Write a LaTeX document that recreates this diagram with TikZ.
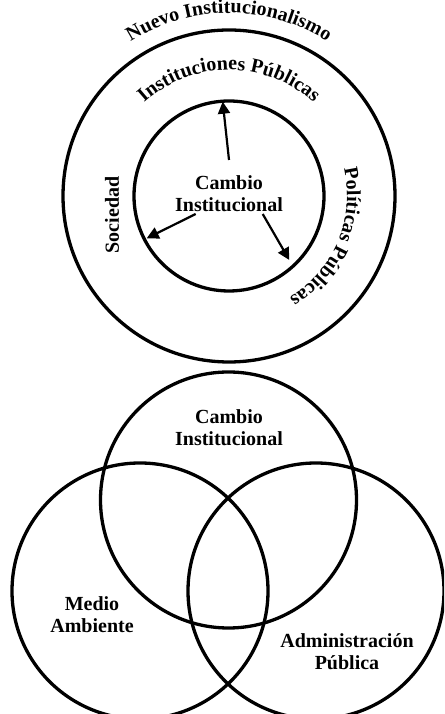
\documentclass[tikz,border=0pt]{standalone}
\usepackage{fontspec}
\setmainfont{Liberation Serif}
\usetikzlibrary{arrows.meta,decorations.text}
\newcommand{\arcfont}{\bfseries\fontsize{20}{22}\selectfont}
\begin{document}
\begin{tikzpicture}[x=1pt,y=1pt,
  ring/.style={draw=black, line width=3.3pt},
  lbl/.style={font=\arcfont, align=center, inner sep=0pt},
  arctext/.style={decorate,
    decoration={text along path, text align=center, text={#1}}},
  ray/.style={line width=2.2pt, -{Triangle[length=12pt,width=12pt]}}]
\fill[white] (0,0) rectangle (444,714);
\clip (0,0) rectangle (444,714);
% ---------- top: concentric circles ----------
\coordinate (C) at (229,518);
\draw[ring] (C) circle[radius=166pt];
\draw[ring] (C) circle[radius=95pt];
\begin{scope}
\arcfont
\path[arctext={Nuevo Institucionalismo}]
  (C) ++(150:183pt) arc[start angle=150, end angle=30, radius=183pt];
\path[arctext={Instituciones Públicas}]
  (C) ++(140:126pt) arc[start angle=140, end angle=40, radius=126pt];
\path[arctext={Políticas Públicas}]
  (C) ++(27:118pt) arc[start angle=27, end angle=-73, radius=118pt];
\end{scope}
\node[lbl, rotate=90] (soc) at (112,499) {Sociedad};
\node[lbl] (cic) at (229,520) {Cambio\\Institucional};
\coordinate (a1s) at (229,554);
\coordinate (a1e) at (222.7,612.3);
\coordinate (a2s) at (195.7,500);
\coordinate (a2e) at (146.7,475.7);
\coordinate (a3s) at (262.7,500);
\coordinate (a3e) at (289.3,454);
\draw[ray] (a1s) -- (a1e);
\draw[ray] (a2s) -- (a2e);
\draw[ray] (a3s) -- (a3e);
% ---------- bottom: Venn diagram ----------
\draw[ring] (228.5,214) circle[radius=128pt];
\draw[ring] (140,123) circle[radius=128pt];
\draw[ring] (316,123) circle[radius=128pt];
\node[lbl] (ci2) at (229,286) {Cambio\\Institucional};
\node[lbl] (ma) at (92,99.5) {Medio\\Ambiente};
\node[lbl] (ap) at (347,62.5) {Administración\\Pública};
\end{tikzpicture}
\end{document}
